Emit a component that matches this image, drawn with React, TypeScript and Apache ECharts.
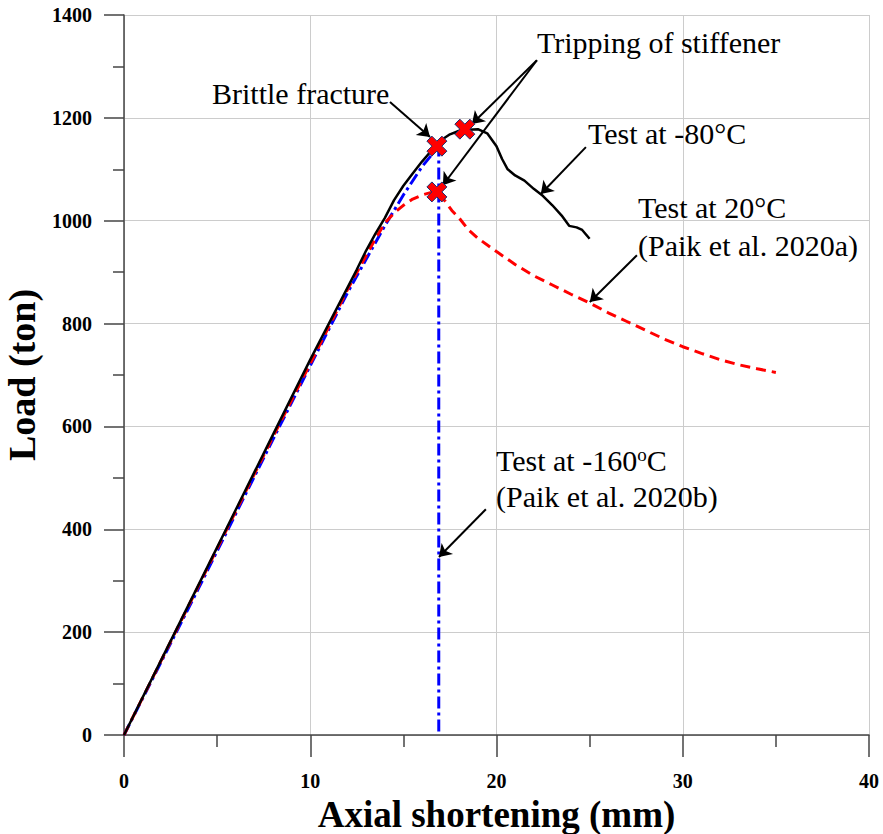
import React, { useEffect, useRef } from "react";
import * as echarts from "echarts";

// Test at -80°C (black solid)
const test80: number[][] = [
  [0, 0], [2, 146], [4, 292], [6, 438], [8, 584], [10, 730], [11, 800], [12, 870],
  [12.5, 905], [13, 942], [13.5, 975], [14, 1005], [14.5, 1040], [15, 1068],
  [15.5, 1092], [16, 1115], [16.5, 1136], [17, 1156], [17.5, 1168], [18, 1175],
  [18.5, 1177], [19, 1178], [19.5, 1170], [20, 1145], [20.3, 1120], [20.6, 1100],
  [21, 1088], [21.5, 1078], [22, 1062], [22.5, 1048], [23, 1030], [23.5, 1010],
  [23.9, 990], [24.3, 987], [24.6, 982], [25, 965],
];
// Test at 20°C (red dashed)
const test20: number[][] = [
  [0, 0], [4, 290], [8, 580], [10, 722], [12, 866], [13, 932], [13.5, 965], [14, 995],
  [14.5, 1015], [15, 1030], [15.5, 1042], [16, 1050], [16.5, 1055], [16.8, 1056],
  [17.2, 1040], [17.6, 1020], [18, 1005], [18.5, 982], [19, 966], [20, 940],
  [21, 915], [22, 893], [23, 875], [24, 857], [25, 840], [26, 821], [27, 804],
  [28, 787], [29, 770], [30, 755], [31, 742], [32, 730], [33, 720], [34, 712], [35, 705],
];
// Test at -160°C (blue dash-dot)
const test160: number[][] = [
  [0, 0], [4, 285], [8, 575], [10, 718], [12, 860], [13, 925], [14, 990],
  [15, 1050], [16, 1105], [16.9, 1145], [16.9, 0],
];
// Red X markers
const markers: number[][] = [[16.8, 1145], [18.3, 1178], [16.8, 1056]];

// Annotation arrows [fromX, fromY, toX, toY] in data units
const arrows: number[][] = [
  [14.28, 1231, 16.43, 1163],
  [22.17, 1312, 18.68, 1188],
  [22.17, 1312, 17.12, 1069],
  [24.8, 1143, 22.38, 1052],
  [27.54, 933, 25.01, 842],
  [19.43, 439, 16.91, 346],
];

const SERIF = "Liberation Serif";
const XPATH =
  "path://M0,5 L5,0 L10,5 L15,0 L20,5 L15,10 L20,15 L15,20 L10,15 L5,20 L0,15 L5,10 Z";

export default function App() {
  const ref = useRef<HTMLDivElement>(null);
  useEffect(() => {
    if (!ref.current) return;
    const chart = echarts.init(ref.current, null, { renderer: "svg" });
    const txt = (x: number, y: number, text: string, extra: any = {}) => ({
      type: "text",
      x,
      y,
      z: 100,
      style: {
        text,
        fontSize: 30,
        fontFamily: SERIF,
        fill: "#000",
        verticalAlign: "middle",
        align: "left",
        ...extra,
      },
    });
    const axisCommon = {
      axisLine: { lineStyle: { color: "#444", width: 1.5 } },
      axisTick: { show: true, lineStyle: { color: "#444", width: 1.5 } },
      minorTick: { show: true, splitNumber: 2, lineStyle: { color: "#444", width: 1.5 } },
      splitLine: { show: true, lineStyle: { color: "#cccccc", width: 1 } },
      nameLocation: "middle",
      nameTextStyle: { fontFamily: SERIF, fontWeight: "bold", fontSize: 37, color: "#000" },
    };
    const labelStyle = {
      fontFamily: SERIF,
      fontWeight: "bold",
      fontSize: 20,
      color: "#000",
      formatter: (v: number) => String(v),
    };
    chart.setOption({
      animation: false,
      grid: {
        left: 124,
        right: 14,
        top: 15,
        bottom: 99,
        containLabel: false,
        outerBoundsMode: "none",
      },
      xAxis: {
        type: "value",
        min: 0,
        max: 40,
        interval: 10,
        name: "Axial shortening (mm)",
        nameGap: 52,
        ...axisCommon,
        axisTick: { ...axisCommon.axisTick, length: 22 },
        minorTick: { ...axisCommon.minorTick, length: 12 },
        axisLabel: { margin: 36, ...labelStyle },
      },
      yAxis: {
        type: "value",
        min: 0,
        max: 1400,
        interval: 200,
        name: "Load (ton)",
        nameGap: 75,
        ...axisCommon,
        nameTextStyle: { ...axisCommon.nameTextStyle, fontSize: 38 },
        axisTick: { ...axisCommon.axisTick, length: 20 },
        minorTick: { ...axisCommon.minorTick, length: 11 },
        axisLabel: { margin: 32, ...labelStyle },
      },
      series: [
        {
          type: "line",
          data: test160,
          showSymbol: false,
          lineStyle: { color: "#0000ff", width: 3, type: [12, 4, 3, 4] },
          z: 2,
        },
        {
          type: "line",
          data: test20,
          showSymbol: false,
          lineStyle: { color: "#ff0000", width: 3, type: [10, 6] },
          z: 3,
        },
        {
          type: "line",
          data: test80,
          showSymbol: false,
          lineStyle: { color: "#000000", width: 2.5 },
          z: 4,
        },
        {
          type: "scatter",
          data: markers,
          symbol: XPATH,
          symbolSize: 20,
          itemStyle: { color: "#ff0000", borderColor: "#1f2f70", borderWidth: 1, opacity: 1 },
          z: 6,
        },
        {
          type: "line",
          data: [],
          z: 7,
          markLine: {
            silent: true,
            symbol: ["none", "arrow"],
            symbolSize: 12,
            label: { show: false },
            lineStyle: { color: "#000", width: 2, type: "solid" },
            data: arrows.map((a) => [{ coord: [a[0], a[1]] }, { coord: [a[2], a[3]] }]),
          },
        },
      ],
      graphic: [
        txt(212, 93, "Brittle fracture"),
        txt(537, 42, "Tripping of stiffener"),
        txt(588, 133, "Test at -80°C"),
        txt(638, 207, "Test at 20°C"),
        txt(638, 245, "(Paik et al. 2020a)"),
        txt(496, 460, "Test at -160{s|o}C", {
          rich: { s: { fontSize: 19, fontFamily: SERIF, fill: "#000", verticalAlign: "top" } },
        }),
        txt(496, 496, "(Paik et al. 2020b)"),
      ],
    });
    return () => chart.dispose();
  }, []);
  return (
    <div
      ref={ref}
      style={{ position: "fixed", left: 0, top: 0, width: 883, height: 834, background: "#fff" }}
    />
  );
}
